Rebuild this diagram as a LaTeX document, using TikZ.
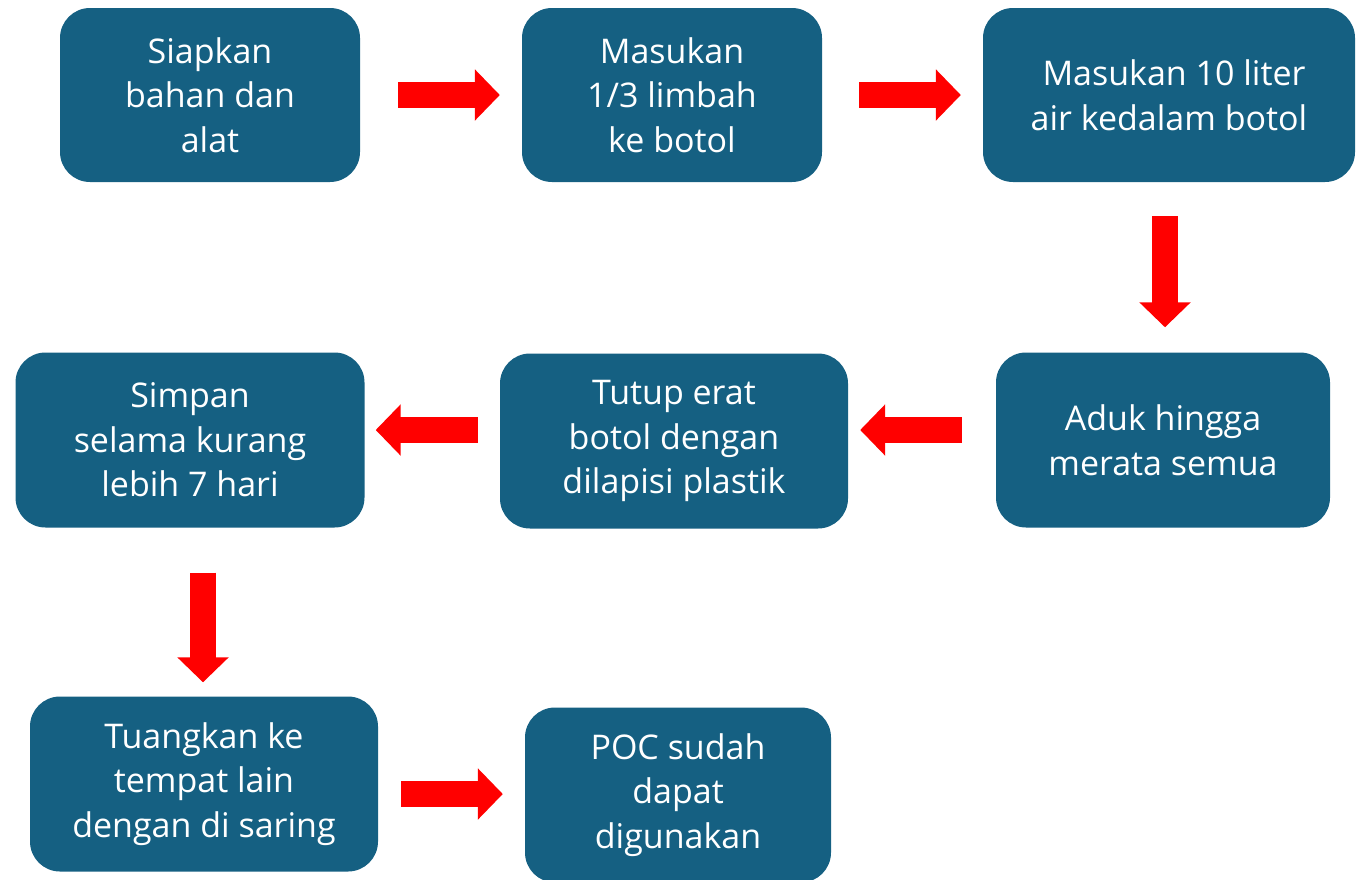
\documentclass[tikz,border=0pt]{standalone}
\usepackage{fontspec}
\setmainfont{Open Sans}
\usetikzlibrary{arrows.meta}
\definecolor{boxblue}{HTML}{156082}
\definecolor{arrred}{HTML}{FF0000}
\begin{document}
\begin{tikzpicture}[x=1pt,y=-1pt,
  stepbox/.style={fill=boxblue, rounded corners=30pt, text=white, align=center,
    font=\fontsize{34pt}{44.5pt}\selectfont, inner sep=0pt},
  blockarrow/.style={draw=arrred, line width=26pt,
    -{Triangle[length=25pt,width=50pt]}}]
\useasboundingbox (0,0) rectangle (1365,879);
\node[stepbox, minimum width=300pt, minimum height=174pt] (a) at (210,95) {Siapkan\\bahan dan\\alat};
\node[stepbox, minimum width=300pt, minimum height=174pt] (b) at (672,95) {Masukan\\1/3 limbah\\ke botol};
\node[stepbox, minimum width=372pt, minimum height=174pt] (c) at (1169,95) {\hspace*{10pt}Masukan 10 liter\\air kedalam botol};
\node[stepbox, minimum width=334pt, minimum height=175pt] (d) at (1163,440) {Aduk hingga\\merata semua};
\node[stepbox, minimum width=348pt, minimum height=175pt] (e) at (674,441) {Tutup erat\\botol dengan\\dilapisi plastik};
\node[stepbox, minimum width=349pt, minimum height=175pt] (f) at (190,440) {Simpan\\selama kurang\\lebih 7 hari};
\node[stepbox, minimum width=348pt, minimum height=175pt] (g) at (204,784) {Tuangkan ke\\tempat lain\\dengan di saring};
\node[stepbox, minimum width=306pt, minimum height=175pt] (h) at (678,795) {POC sudah\\dapat\\digunakan};
% connectors
\draw[blockarrow] ([xshift=38pt]a.east) -- ([xshift=-22pt]b.west);
\draw[blockarrow] ([xshift=37pt]b.east) -- ([xshift=-22pt]c.west);
\draw[blockarrow] ([xshift=-4pt,yshift=-34pt]c.south) -- ([xshift=2pt,yshift=25pt]d.north);
\draw[blockarrow] ([xshift=-34pt,yshift=10pt]d.west) -- ([xshift=12pt,yshift=11pt]e.east);
\draw[blockarrow] ([xshift=-22pt,yshift=11pt]e.west) -- ([xshift=11pt,yshift=10pt]f.east);
\draw[blockarrow] ([xshift=13pt,yshift=-45pt]f.south) -- ([xshift=-1pt,yshift=14pt]g.north);
\draw[blockarrow] ([xshift=23pt,yshift=-10pt]g.east) -- ([xshift=-22pt,yshift=1pt]h.west);
\end{tikzpicture}
\end{document}
